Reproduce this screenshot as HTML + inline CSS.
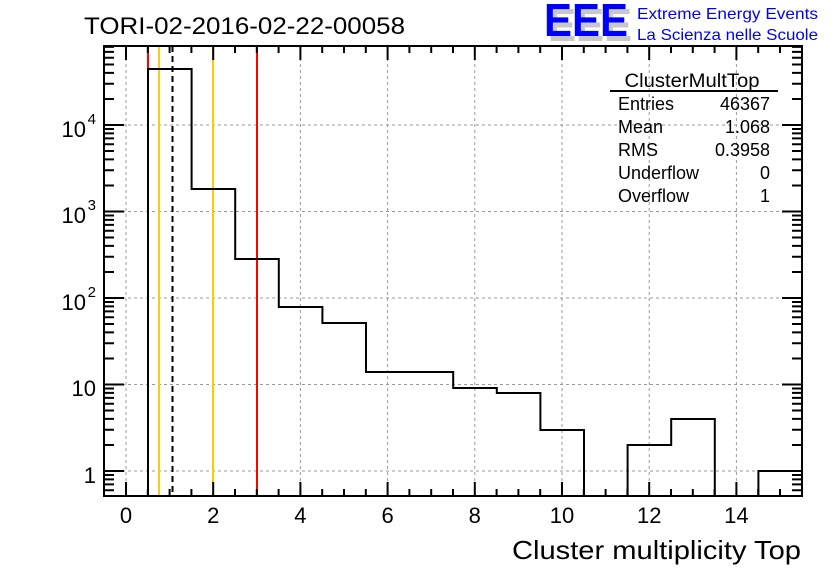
<!DOCTYPE html>
<html><head><meta charset="utf-8"><style>
html,body{margin:0;padding:0;background:#fff;}
svg{display:block;font-family:"Liberation Sans",sans-serif;}
</style></head><body>
<svg width="836" height="572" viewBox="0 0 836 572" xmlns="http://www.w3.org/2000/svg">
<rect width="836" height="572" fill="#fff"/>
<g stroke="#999" stroke-width="1" stroke-dasharray="3,3">
<line x1="126" y1="46" x2="126" y2="496"/>
<line x1="213.2" y1="46" x2="213.2" y2="496"/>
<line x1="300.4" y1="46" x2="300.4" y2="496"/>
<line x1="387.6" y1="46" x2="387.6" y2="496"/>
<line x1="474.8" y1="46" x2="474.8" y2="496"/>
<line x1="562" y1="46" x2="562" y2="496"/>
<line x1="649.2" y1="46" x2="649.2" y2="496"/>
<line x1="736.4" y1="46" x2="736.4" y2="496"/>
<line x1="104" y1="125" x2="802" y2="125"/>
<line x1="104" y1="211.5" x2="802" y2="211.5"/>
<line x1="104" y1="298" x2="802" y2="298"/>
<line x1="104" y1="384.5" x2="802" y2="384.5"/>
<line x1="104" y1="471" x2="802" y2="471"/>
</g>
<line x1="148" y1="46" x2="148" y2="496" stroke="#f00" stroke-width="2"/>
<line x1="159" y1="46" x2="159" y2="496" stroke="#fc0" stroke-width="2"/>
<line x1="172.5" y1="46" x2="172.5" y2="496" stroke="#000" stroke-width="2" stroke-dasharray="6,4"/>
<line x1="213" y1="46" x2="213" y2="496" stroke="#fc0" stroke-width="2"/>
<line x1="257" y1="46" x2="257" y2="496" stroke="#f00" stroke-width="2"/>
<path d="M148,496 V69 H191.6 V189 H235.2 V259 H278.8 V307 H322.4 V323 H366 V372 H453.2 V388 H496.8 V393 H540.4 V430 H584 V496 M627.6,496 V445 H671.2 V419 H714.8 V496 M758.4,496 V471 H802" fill="none" stroke="#000" stroke-width="2"/>
<rect x="104" y="46" width="698" height="450" fill="none" stroke="#000" stroke-width="2"/>
<g stroke="#000" stroke-width="2">
<path d="M126,496v-14M213.2,496v-14M300.4,496v-14M387.6,496v-14M474.8,496v-14M562,496v-14M649.2,496v-14M736.4,496v-14
M126,46v14M213.2,46v14M300.4,46v14M387.6,46v14M474.8,46v14M562,46v14M649.2,46v14M736.4,46v14"/>
<path d="M147.8,496v-7M169.6,496v-7M191.4,496v-7M235,496v-7M256.8,496v-7M278.6,496v-7M322.2,496v-7M344,496v-7M365.8,496v-7M409.4,496v-7M431.2,496v-7M453,496v-7M496.6,496v-7M518.4,496v-7M540.2,496v-7M583.8,496v-7M605.6,496v-7M627.4,496v-7M671,496v-7M692.8,496v-7M714.6,496v-7M758.2,496v-7M780,496v-7
M147.8,46v7M169.6,46v7M191.4,46v7M235,46v7M256.8,46v7M278.6,46v7M322.2,46v7M344,46v7M365.8,46v7M409.4,46v7M431.2,46v7M453,46v7M496.6,46v7M518.4,46v7M540.2,46v7M583.8,46v7M605.6,46v7M627.4,46v7M671,46v7M692.8,46v7M714.6,46v7M758.2,46v7M780,46v7"/>
<path d="M104,125h20M104,211.5h20M104,298h20M104,384.5h20M104,471h20M802,125h-20M802,211.5h-20M802,298h-20M802,384.5h-20M802,471h-20"/>
</g>
<g stroke="#000" stroke-width="2" id="yminor"></g>
<script>
(function(){var g=document.getElementById('yminor');var d='';
for(var dec=-1;dec<5;dec++){for(var m=2;m<10;m++){var y=471-86.5*(dec+Math.log10(m));if(y<46||y>496)continue;
d+='M104,'+y.toFixed(1)+'h10M802,'+y.toFixed(1)+'h-10';}}
var p=document.createElementNS('http://www.w3.org/2000/svg','path');p.setAttribute('d',d);g.appendChild(p);})();
</script>
<g font-size="22" text-anchor="middle" fill="#000">
<text x="126" y="523">0</text><text x="213.2" y="523">2</text><text x="300.4" y="523">4</text>
<text x="387.6" y="523">6</text><text x="474.8" y="523">8</text><text x="562" y="523">10</text>
<text x="649.2" y="523">12</text><text x="736.4" y="523">14</text>
</g>
<g font-size="22" text-anchor="end" fill="#000">
<text x="86" y="137">10</text><text x="96" y="124" font-size="15">4</text>
<text x="86" y="223">10</text><text x="96" y="210" font-size="15">3</text>
<text x="86" y="310">10</text><text x="96" y="297" font-size="15">2</text>
<text x="96" y="396">10</text>
<text x="96" y="483">1</text>
</g>
<text x="801" y="559" font-size="26" text-anchor="end" textLength="289" lengthAdjust="spacingAndGlyphs">Cluster multiplicity Top</text>
<text x="84" y="34" font-size="24" textLength="321" lengthAdjust="spacingAndGlyphs">TORI-02-2016-02-22-00058</text>
<text x="548" y="41" font-size="46" font-weight="bold" fill="#c8c8c8" textLength="84" lengthAdjust="spacingAndGlyphs">EEE</text>
<text x="544" y="36" font-size="46" font-weight="bold" fill="#0000ff" textLength="84" lengthAdjust="spacingAndGlyphs">EEE</text>
<text x="637" y="19" font-size="16" fill="#0000ff" textLength="181" lengthAdjust="spacingAndGlyphs">Extreme Energy Events</text>
<text x="637" y="40" font-size="16" fill="#0000ff" textLength="181" lengthAdjust="spacingAndGlyphs">La Scienza nelle Scuole</text>
<text x="692" y="87" font-size="19" text-anchor="middle" textLength="135" lengthAdjust="spacingAndGlyphs">ClusterMultTop</text>
<line x1="610" y1="91" x2="778" y2="91" stroke="#000" stroke-width="2"/>
<g font-size="18">
<text x="618" y="110">Entries</text><text x="770" y="110" text-anchor="end">46367</text>
<text x="618" y="133">Mean</text><text x="770" y="133" text-anchor="end">1.068</text>
<text x="618" y="156">RMS</text><text x="770" y="156" text-anchor="end">0.3958</text>
<text x="618" y="179">Underflow</text><text x="770" y="179" text-anchor="end">0</text>
<text x="618" y="202">Overflow</text><text x="770" y="202" text-anchor="end">1</text>
</g>
</svg>
</body></html>
